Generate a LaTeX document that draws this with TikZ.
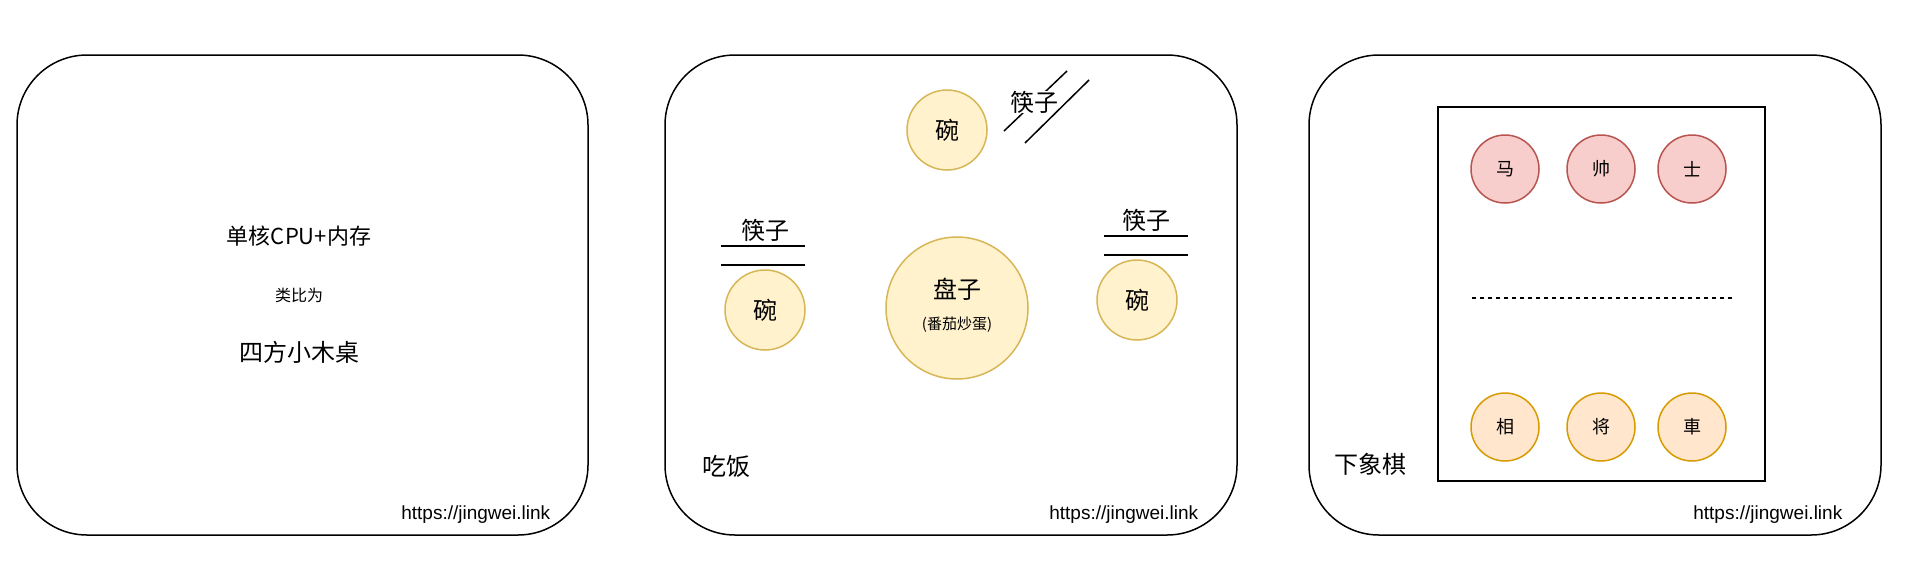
\documentclass[tikz,border=0pt]{standalone}
\usepackage{fontspec}
\setmainfont{Liberation Sans}
\newfontfamily\cjk{Noto Sans CJK SC}
\definecolor{node_yellow}{HTML}{FFF2CC}
\definecolor{edge_yellow}{HTML}{D6B656}
\definecolor{node_red}{HTML}{F8CECC}
\definecolor{edge_red}{HTML}{B85450}
\definecolor{node_orange}{HTML}{FFE6CC}
\definecolor{edge_orange}{HTML}{D79B00}
\newcommand\fs[1]{\fontsize{#1}{#1}\selectfont}

\begin{document}
\begin{tikzpicture}[x=1pt,y=-1pt,line width=1.5pt]
    \tikzstyle{panel}=[draw=black, rounded corners=70pt]
    \tikzstyle{txt}=[inner sep=0pt, text=black, font=\cjk\fs{24}]
    \tikzstyle{url}=[inner sep=0pt, anchor=east, font=\fs{19}]
    \tikzstyle{bowl}=[draw=edge_yellow, fill=node_yellow, circle, inner sep=0pt, minimum size=80pt, font=\cjk\fs{24}]
    \tikzstyle{up}=[draw=edge_red, fill=node_red, circle, inner sep=0pt, minimum size=68pt, font=\cjk\fs{18}]
    \tikzstyle{dn}=[draw=edge_orange, fill=node_orange, circle, inner sep=0pt, minimum size=68pt, font=\cjk\fs{18}]
    \tikzstyle{stick}=[draw=black]

    \useasboundingbox (0,0) rectangle (1906,574);

    % three tables
    \draw[panel] (17,55)   rectangle (588,535);
    \draw[panel] (665,55)  rectangle (1237,535);
    \draw[panel] (1309,55) rectangle (1881,535);

    % single core cpu
    \node[txt,font=\cjk\fs{22}] (cpu)  at (299,236) {单核CPU+内存};
    \node[txt,font=\cjk\fs{16}] (like) at (299,295) {类比为};
    \node[txt]                  (desk) at (299,352) {四方小木桌};
    \node[url] (u1) at (551,515) {https://jingwei.link};

    % eating
    \node[bowl] (b1) at (947,130) {碗};
    \node[bowl] (b2) at (765,310) {碗};
    \node[bowl] (b3) at (1137,300) {碗};
    \node[bowl,minimum size=142pt] (plate) at (957,308) {};
    \node[txt] (pl)  at (957,289) {盘子};
    \node[txt,font=\cjk\fs{15}] (egg) at (957,325) {(番茄炒蛋)};

    \coordinate (l1a) at (721,246);  \coordinate (l1b) at (805,246);
    \coordinate (l2a) at (721,265);  \coordinate (l2b) at (805,265);
    \coordinate (r1a) at (1104,236); \coordinate (r1b) at (1188,236);
    \coordinate (r2a) at (1104,255); \coordinate (r2b) at (1188,255);
    \coordinate (t1a) at (1004,131); \coordinate (t1b) at (1067,71);
    \coordinate (t2a) at (1025,143); \coordinate (t2b) at (1089,80);
    \path
     (l1a) edge[stick] (l1b)
     (l2a) edge[stick] (l2b)
     (r1a) edge[stick] (r1b)
     (r2a) edge[stick] (r2b)
     (t1a) edge[stick] (t1b)
     ;
    \node[txt] (cl) at (765,230) {筷子};
    \node[txt] (cr) at (1146,220) {筷子};
    \node[txt,fill=white] (ct) at (1034,102) {筷子};
    \path (t2a) edge[stick] (t2b);
    \node[txt] (eat) at (726,466) {吃饭};
    \node[url] (u2) at (1199,515) {https://jingwei.link};

    % chess
    \draw[draw=black] (1438,107) rectangle (1765,481);
    \node[up] (ma)   at (1505,169) {马};
    \node[up] (shuai) at (1601,169) {帅};
    \node[up] (shi)  at (1692,169) {士};
    \node[dn] (xiang) at (1505,427) {相};
    \node[dn] (jiang) at (1601,427) {将};
    \node[dn] (ju)   at (1692,427) {車};
    \coordinate (ra) at (1472,298); \coordinate (rb) at (1732,298);
    \draw[dashed,line width=1.2pt,dash pattern=on 4pt off 4pt] (ra) -- (rb);
    \node[txt] (chess) at (1370,464) {下象棋};
    \node[url] (u3) at (1843,515) {https://jingwei.link};
\end{tikzpicture}
\end{document}
